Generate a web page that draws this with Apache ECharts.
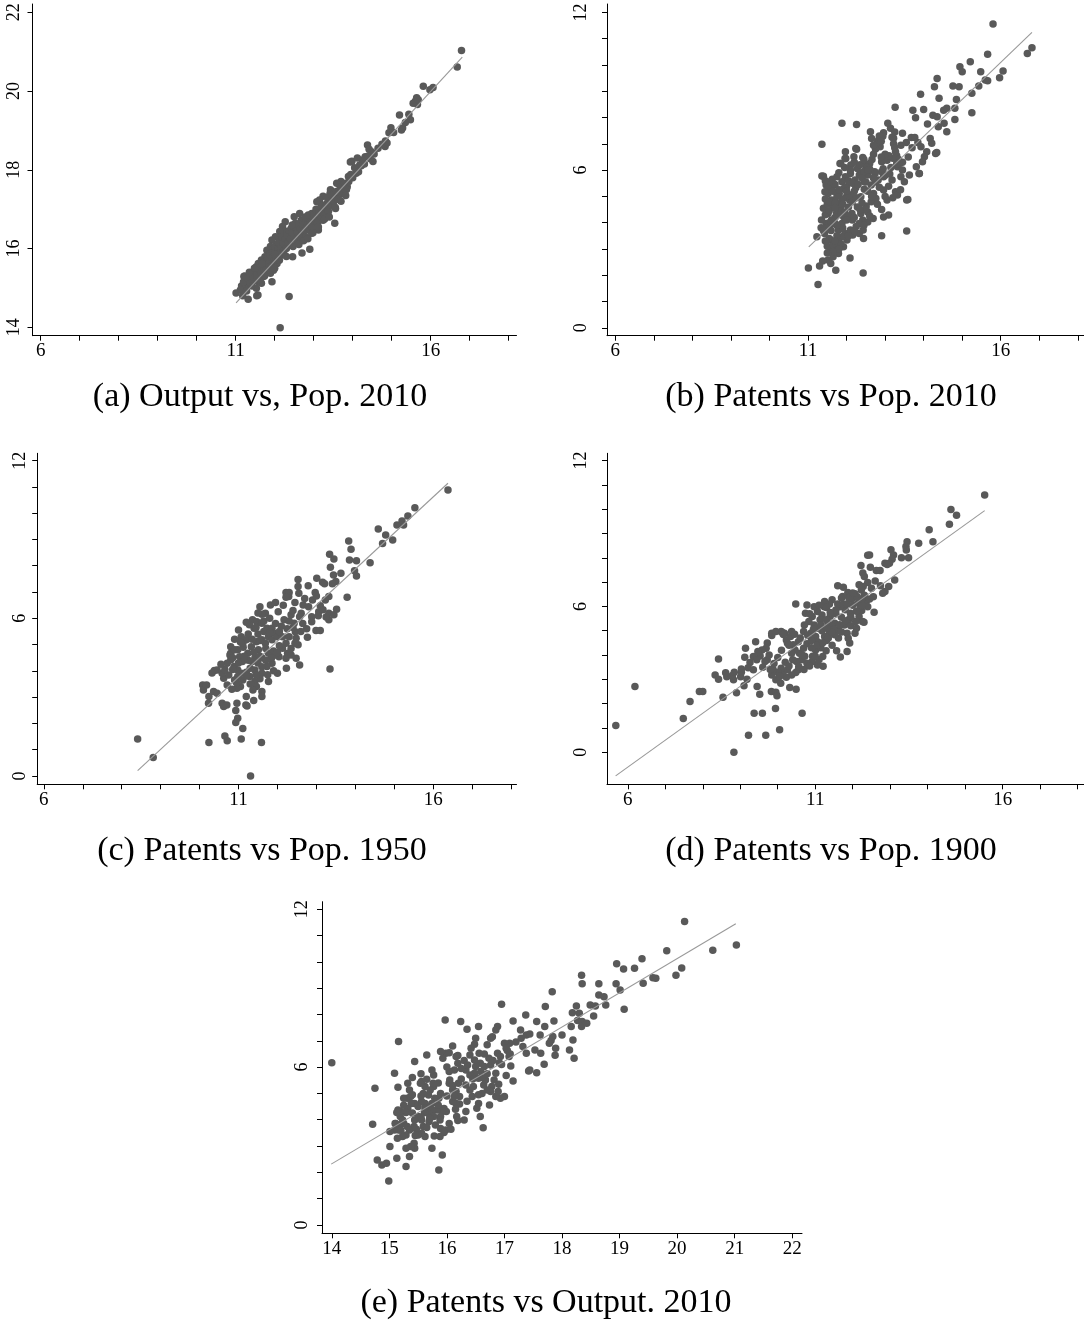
<!DOCTYPE html>
<html><head><meta charset="utf-8">
<script src="https://cdn.jsdelivr.net/npm/echarts@6/dist/echarts.min.js"></script>
<style>html,body{margin:0;padding:0;background:#fff}#chart{width:1084px;height:1321px}</style>
</head><body><div id="chart"></div>
<script>
// ---------- data ----------
const outputVsPop2010 = [[16.79,21.03],[16.68,20.61],[15.81,20.12],[15.98,20.03],[16.06,20.09],[15.64,19.83],[15.61,19.75],[15.66,19.66],[15.55,19.69],[15.68,19.78],[15.20,19.39],[15.44,19.41],[15.48,19.27],[15.25,19.01],[15.28,19.06],[14.98,19.07],[14.93,18.94],[14.84,18.73],[14.83,18.59],[14.88,18.68],[14.38,18.63],[14.48,18.46],[14.42,18.52],[14.32,18.33],[14.25,18.25],[14.52,18.21],[14.45,18.28],[13.98,18.22],[13.94,18.20],[14.18,18.12],[14.12,18.30],[14.09,17.91],[13.89,17.83],[13.95,17.88],[13.70,17.70],[13.59,17.66],[13.86,17.57],[13.79,17.42],[13.65,17.36],[13.72,17.50],[13.43,17.49],[13.42,17.40],[13.50,17.30],[13.24,17.33],[13.15,17.23],[13.08,17.19],[13.19,17.06],[13.34,17.15],[13.43,17.25],[13.56,17.02],[13.54,16.64],[13.36,16.85],[13.24,16.72],[13.30,16.95],[13.08,16.81],[12.95,16.89],[12.90,16.72],[13.03,16.56],[13.12,16.47],[12.95,16.39],[12.81,16.47],[12.77,16.64],[12.68,16.72],[12.64,16.89],[12.50,16.81],[12.53,16.64],[12.55,16.47],[12.42,16.51],[12.33,16.39],[12.37,16.26],[12.27,16.68],[12.20,16.56],[12.25,16.45],[12.13,16.43],[12.02,16.30],[12.15,16.22],[12.06,16.09],[11.93,16.22],[11.89,16.05],[11.80,15.96],[11.85,15.85],[12.02,15.92],[12.20,15.96],[12.28,16.05],[12.40,16.10],[12.46,15.79],[12.70,15.89],[12.90,15.98],[11.75,15.79],[11.66,15.71],[11.80,15.62],[11.93,15.67],[12.06,15.62],[12.10,15.75],[11.58,15.62],[11.53,15.54],[11.62,15.45],[11.75,15.41],[11.89,15.37],[11.97,15.45],[11.93,15.16],[11.45,15.37],[11.47,15.24],[11.36,15.33],[11.41,15.16],[11.58,15.16],[11.71,15.29],[11.32,15.20],[11.27,15.07],[11.23,15.30],[11.53,14.99],[11.66,15.12],[11.57,14.82],[11.32,14.71],[11.24,14.99],[11.01,14.87],[12.37,14.78],[12.14,13.99],[11.54,14.80],[11.21,15.29],
[11.15,15.05],[11.20,15.15],[11.30,15.25],[11.38,15.12],[11.44,15.28],[11.50,15.40],[11.55,15.30],[11.60,15.50],[11.65,15.38],[11.70,15.55],[11.72,15.65],[11.78,15.50],[11.82,15.75],[11.84,15.60],[11.88,15.85],[11.90,15.55],[11.95,15.90],[11.98,15.78],[12.00,16.05],[12.04,15.70],[12.08,16.00],[12.10,16.15],[12.12,15.88],[12.16,16.05],[12.18,16.30],[12.22,16.12],[12.24,15.95],[12.28,16.25],[12.30,16.00],[12.32,16.35],[12.35,16.15],[12.38,16.45],[12.40,16.25],[12.44,16.40],[12.47,16.05],[12.50,16.30],[12.52,16.55],[12.56,16.20],[12.58,16.40],[12.60,16.62],[12.63,16.30],[12.66,16.50],[12.70,16.35],[12.72,16.60],[12.75,16.45],[12.78,16.80],[12.80,16.30],[12.84,16.60],[12.86,16.85],[12.88,16.50],[12.92,16.65],[12.96,16.55],[13.00,16.85],[13.02,16.70],[13.06,17.00],[13.10,16.65],[13.14,16.90],[13.18,16.80],[13.22,17.10],[13.26,16.90],[13.30,17.05],[13.35,17.30],[13.38,16.95],[13.45,17.10],[13.48,17.35],[13.52,17.20],[13.58,17.45],[13.62,17.25],[13.68,17.55],[13.75,17.40],[13.80,17.65],[13.84,17.50],[13.90,17.70],[14.00,17.80],[14.05,18.05],[14.15,17.95],[14.22,18.10],[14.30,18.15],[14.40,18.35],[14.55,18.40],[14.65,18.55],[14.75,18.65],[15.05,18.95],[15.35,19.20],[11.12,14.95],[11.18,14.80],[11.28,14.92],[11.35,15.40],[11.42,15.05],[11.48,15.50],[11.62,15.20],[11.68,15.62],[11.74,15.30],[11.86,15.45],[12.00,15.50],[12.00,15.85],[12.12,15.70],[12.20,15.85],[12.30,15.80],[12.45,16.60],[12.62,16.10],[12.74,16.20],[12.85,16.25],[12.98,16.40],[13.12,16.55],[13.28,16.75],[13.40,16.80],[13.55,17.05],[13.70,17.20],[13.82,17.35]];

const patentsVsPop2010 = [[15.80,11.56],[16.81,10.66],[16.69,10.44],[15.66,10.41],[15.21,10.12],[14.94,9.93],[15.00,9.74],[15.48,9.74],[16.06,9.77],[15.97,9.51],[15.66,9.40],[15.60,9.43],[15.43,9.20],[15.25,8.92],[15.25,8.18],[14.35,9.49],[14.28,9.17],[14.76,9.20],[14.92,9.17],[14.85,8.69],[14.40,8.73],[13.92,8.89],[14.60,8.35],[14.81,8.35],[14.52,8.28],[14.81,7.93],[14.24,8.09],[14.35,8.03],[14.00,8.31],[13.72,8.28],[13.79,7.99],[13.26,8.39],[14.10,7.75],[14.38,7.65],[14.53,7.78],[14.60,7.46],[13.07,7.78],[13.14,7.59],[12.96,7.42],[12.94,7.29],[13.45,7.40],[13.68,7.24],[13.77,7.24],[14.17,7.20],[14.21,7.02],[13.93,6.89],[14.08,6.70],[14.02,6.51],[13.97,6.32],[14.31,6.63],[12.62,7.46],[12.26,7.74],[11.88,7.78],[11.36,6.98],[12.83,7.14],[13.22,7.21],[12.87,6.89],[12.26,6.79],[11.98,6.44],[11.85,6.25],[12.19,6.51],[12.42,6.48],[12.49,6.19],[12.59,6.06],[12.73,5.94],[12.91,6.32],[13.05,6.38],[13.27,6.70],[13.41,6.95],[13.32,6.13],[13.45,6.00],[13.41,5.75],[13.50,5.56],[13.63,5.81],[13.81,6.13],[13.88,5.87],[13.18,5.62],[13.09,5.39],[12.96,5.24],[13.27,5.18],[13.32,5.05],[13.05,4.86],[13.59,4.88],[13.09,4.29],[12.96,4.22],[12.91,4.50],[12.76,4.92],[12.64,4.80],[12.51,4.63],[12.55,4.41],[12.70,5.11],[12.64,5.43],[12.46,5.56],[12.33,5.81],[12.28,6.06],[12.10,5.87],[11.97,5.75],[11.88,5.56],[11.93,5.30],[11.81,5.11],[12.08,4.86],[12.20,4.92],[12.28,4.60],[12.37,4.35],[12.42,4.10],[12.33,3.97],[12.55,4.03],[12.69,4.16],[12.33,3.59],[12.44,3.40],[12.16,3.53],[12.10,3.72],[11.96,3.59],[12.01,3.34],[11.88,3.46],[11.79,3.72],[11.70,3.97],[11.61,4.10],[11.74,4.35],[11.65,4.60],[11.61,4.86],[11.79,4.73],[11.52,4.35],[11.47,3.97],[11.34,3.81],[11.23,3.46],[11.43,3.59],[11.59,3.34],[11.79,3.27],[11.70,3.08],[11.59,2.98],[11.79,2.83],[11.65,2.70],[11.52,2.58],[11.92,3.08],[12.09,2.66],[11.59,2.45],[11.38,2.54],[11.30,2.35],[11.01,2.28],[11.72,2.19],[12.43,2.09],[11.26,1.65],[12.91,3.50],[13.56,3.68],[11.36,5.78],[11.47,5.43],[11.61,5.24],[11.52,5.11],[11.63,5.65],[11.97,6.70],[12.24,6.82],[12.91,5.94],[12.96,5.75],[12.82,5.62],[12.55,5.81],[12.46,5.27],[12.37,4.99],[12.24,5.33],[12.14,4.35],[11.93,4.22],[11.88,3.97],[11.96,6.44],[11.83,6.25],[12.11,6.19],[11.40,5.77],[11.53,5.37],[11.44,5.18],[12.00,5.37],[12.22,5.62],[12.39,5.87],[12.61,6.00],[12.74,5.87],[13.56,4.86],[12.43,3.72],[14.34,6.67],[13.89,5.87],
[12.85,7.30],[12.80,7.05],[12.75,6.80],[12.70,6.60],[12.66,6.40],[12.60,6.25],[12.52,6.10],[12.45,5.95],[12.40,5.70],[13.18,7.25],[13.22,7.00],[13.25,6.85],[13.30,6.55],[13.35,6.40],[13.38,6.25],[13.20,6.45],[13.10,6.55],[13.00,6.60],[12.95,6.05],[13.12,5.85],[12.20,5.20],[12.10,5.05],[12.00,5.00],[11.90,4.90],[11.75,5.00],[11.85,4.55],[11.95,4.40],[12.05,4.25],[12.15,4.10],[12.25,3.85],[11.70,4.20],[11.55,4.00],[11.60,3.70],[11.75,3.50],[11.85,3.20],[11.50,3.10],[11.65,3.15],[11.80,3.00],[11.45,4.30],[11.40,4.55],[11.50,4.70],[11.70,5.45],[11.80,5.90],[12.20,6.30],[12.35,6.20],[12.45,6.40],[12.05,5.60],[12.15,5.50],[12.55,5.20],[12.65,5.00],[12.80,4.70],[12.85,5.35],[12.75,5.55],[13.00,5.00],[13.20,4.95],[13.40,5.25],[13.45,6.30],[13.60,6.50],[13.70,6.85],[13.55,7.05],[13.85,7.05],
[11.45,4.90],[11.55,4.80],[11.70,4.75],[11.90,4.70],[12.05,4.60],[12.15,4.80],[12.25,4.95],[12.40,4.75],[12.50,4.50],[12.60,4.25],[12.45,3.90],[12.20,3.70],[12.05,3.50],[11.90,3.80],[11.75,3.90],[11.60,3.95],[11.50,3.80],[11.40,3.70],[11.35,4.10],[11.55,4.45],[11.70,4.55],[11.85,4.30],[12.00,4.10],[12.20,4.20],[12.35,4.50],[11.65,5.20],[11.80,5.25],[12.00,5.20],[12.30,5.45],[12.50,5.55],[12.70,5.70],[12.55,6.00],[12.10,6.00],[11.95,6.10],[11.75,5.75],[11.55,5.55],[11.45,5.60],[13.00,5.80],[13.15,6.10],[12.90,6.50],[12.70,6.95],[12.65,7.20],[12.90,7.10],[13.25,7.45],[13.30,6.25],[11.55,3.40],[11.70,3.30],[11.65,2.90],[11.50,2.85],[11.45,3.30]];

const patentsVsPop1950 = [[16.38,10.88],[15.53,10.21],[15.35,9.89],[15.20,9.70],[15.24,9.55],[15.07,9.55],[14.59,9.40],[14.78,9.17],[14.70,8.85],[14.96,8.98],[13.83,8.94],[13.89,8.63],[13.85,8.22],[14.03,8.19],[14.38,8.11],[13.98,7.81],[14.03,7.61],[13.34,8.44],[13.45,8.26],[13.36,7.94],[13.63,7.71],[13.44,7.65],[13.50,7.40],[13.41,7.31],[13.79,6.80],[13.01,7.52],[13.16,7.37],[13.21,7.31],[12.53,7.48],[12.79,7.24],[12.53,7.21],[12.22,6.98],[12.30,6.98],[12.55,6.95],[12.97,6.98],[12.29,6.83],[12.22,6.80],[13.32,6.83],[12.66,6.51],[12.80,6.44],[13.10,6.48],[13.23,6.70],[13.17,6.32],[13.32,6.19],[13.52,6.34],[13.45,6.13],[13.32,5.94],[13.06,6.25],[12.88,6.06],[12.88,5.87],[12.99,5.53],[13.10,5.53],[12.77,5.28],[12.53,4.99],[12.48,5.24],[12.46,5.49],[12.43,5.81],[12.61,6.19],[12.57,6.06],[12.35,6.13],[12.17,5.94],[12.30,5.90],[12.02,6.25],[11.82,6.51],[11.69,6.19],[11.55,6.44],[11.60,6.15],[11.36,5.94],[11.47,5.87],[11.60,5.81],[11.73,5.62],[11.86,5.62],[11.91,5.43],[11.77,5.30],[11.60,5.18],[11.46,5.11],[11.69,5.05],[11.86,5.18],[12.00,5.30],[12.22,5.05],[12.13,4.86],[12.26,4.67],[12.22,4.48],[12.04,4.54],[12.35,4.60],[12.48,4.48],[12.57,4.22],[12.23,4.10],[11.86,4.29],[11.73,4.16],[12.00,3.91],[11.77,3.59],[11.60,3.91],[11.42,4.03],[11.50,4.30],[11.42,4.48],[11.24,4.67],[11.33,4.92],[11.12,4.90],[11.20,5.18],[11.07,5.30],[11.11,5.05],[10.98,4.80],[11.03,4.54],[10.80,4.92],[10.80,4.67],[10.80,4.41],[10.89,4.16],[11.10,4.35],[10.98,4.03],[11.07,3.91],[11.20,3.95],[11.11,3.65],[11.29,3.78],[11.42,3.59],[11.46,3.40],[11.37,3.27],[11.60,3.21],[11.60,3.02],[11.39,2.87],[11.20,3.02],[11.05,3.40],[10.96,3.34],[10.83,3.30],[10.71,3.46],[10.62,3.72],[10.75,3.84],[10.58,3.91],[10.45,4.03],[10.38,4.01],[10.32,3.92],[10.85,4.05],[10.71,4.29],[10.78,4.60],[10.85,4.50],[10.98,3.78],[10.90,3.65],[10.08,3.46],[10.10,3.27],[10.18,3.46],[10.36,3.21],[10.45,3.15],[10.24,3.02],[10.23,2.77],[10.58,2.77],[10.62,2.64],[10.70,2.70],[10.96,2.77],[11.19,2.70],[11.22,2.66],[10.93,2.49],[10.98,2.19],[10.93,2.03],[11.11,1.80],[10.65,1.52],[10.71,1.34],[11.07,1.40],[10.24,1.27],[11.59,1.27],[11.31,0.00],[8.41,1.40],[8.81,0.70],[13.35,4.07],[11.40,5.62],[11.28,5.75],[11.51,4.80],[11.77,4.67],[11.90,4.75],[11.70,4.85],[12.05,4.95],[12.13,5.30],[12.05,5.50],[11.95,4.60],[11.60,4.50],[11.40,4.70],[11.25,4.40],[11.55,3.70],[11.30,3.50],
[11.50,5.40],[11.65,5.50],[11.80,5.45],[11.95,5.80],[12.10,5.70],[12.25,5.60],[12.40,5.65],[12.00,4.70],[11.85,4.50],[11.70,4.40],[11.55,4.55],[11.35,4.35],[11.15,4.55],[11.00,4.30],[10.90,4.80],[11.05,5.10],[11.25,5.40],[11.45,5.65],[11.65,5.90],[11.80,6.00],[12.15,6.50],[12.40,6.30],[12.65,5.80],[12.75,5.60],[12.60,5.50],[12.30,5.30],[12.45,5.05],[12.35,4.85],[11.90,4.00],[11.60,4.15],[11.30,4.10],[11.20,3.80],[11.45,3.85],[11.75,3.85],[10.95,3.55],[10.65,4.05],[10.55,4.25],[12.70,6.75],[12.90,6.70],[13.05,6.10],[13.25,6.05],[13.00,6.85],[12.45,6.60],[11.95,6.60],[11.50,6.20],[11.20,5.85],[11.00,5.55],[10.90,5.20],[11.35,5.20],[11.55,5.15]];

const patentsVsPop1900 = [[15.52,10.58],[14.62,9.99],[14.77,9.75],[14.58,9.38],[14.04,9.15],[14.14,8.66],[13.76,8.60],[13.45,8.66],[13.42,8.46],[13.43,8.32],[13.49,8.00],[13.30,8.00],[13.02,8.33],[13.09,8.12],[13.05,7.94],[12.98,7.78],[12.86,7.78],[12.92,7.72],[13.12,7.09],[12.96,6.82],[12.86,6.61],[12.80,6.54],[12.45,8.12],[12.40,8.10],[12.22,7.68],[12.47,7.61],[12.63,7.48],[12.73,7.48],[12.27,7.37],[12.31,7.23],[12.40,6.98],[12.28,6.82],[12.17,6.89],[12.23,6.68],[12.31,6.46],[12.74,6.85],[11.60,6.85],[11.75,6.79],[11.87,6.57],[11.73,6.41],[11.90,6.35],[11.98,6.30],[12.06,6.52],[12.12,6.40],[12.36,6.20],[12.40,5.99],[12.57,5.76],[12.24,5.83],[12.17,5.58],[12.26,5.38],[12.30,5.35],[12.08,5.38],[12.06,4.90],[11.85,4.90],[11.88,4.69],[11.92,4.49],[11.85,4.14],[11.62,4.70],[11.57,4.18],[11.67,3.92],[11.78,5.24],[11.89,5.45],[11.94,5.72],[11.80,5.86],[11.66,5.99],[11.60,6.10],[11.45,6.27],[11.38,6.10],[11.25,6.20],[11.24,5.99],[11.18,5.65],[11.06,5.79],[10.97,5.99],[10.78,6.06],[10.48,6.10],[10.74,5.72],[10.92,5.58],[11.13,5.45],[11.34,5.31],[11.52,5.31],[11.43,5.17],[11.62,5.03],[11.52,4.83],[11.38,4.90],[11.25,4.76],[11.18,5.00],[11.06,5.10],[10.97,5.24],[10.83,5.38],[10.71,5.24],[10.69,4.97],[10.88,4.90],[11.01,4.76],[11.06,4.55],[11.01,4.21],[11.29,4.18],[11.20,3.94],[11.21,3.54],[11.06,3.59],[10.92,3.73],[10.78,3.66],[10.64,3.80],[10.58,4.07],[10.69,4.28],[10.78,4.46],[10.55,4.55],[10.41,4.42],[10.46,4.21],[10.37,4.07],[10.50,3.73],[10.55,3.39],[10.48,3.28],[10.37,3.18],[10.23,3.09],[10.14,3.28],[10.26,3.39],[10.09,3.46],[10.00,3.28],[9.88,3.39],[9.84,3.18],[9.95,2.98],[10.08,2.84],[10.32,2.66],[10.49,2.59],[10.05,3.12],[10.23,4.62],[10.18,4.90],[10.37,4.97],[10.34,4.76],[10.09,4.97],[9.84,4.80],[9.72,4.49],[9.69,4.28],[9.58,4.21],[9.53,3.96],[9.47,4.14],[9.41,4.55],[9.35,3.94],[9.44,3.80],[9.26,3.69],[9.21,3.48],[9.35,3.39],[9.14,4.28],[9.12,3.91],[9.01,3.11],[9.03,3.29],[9.18,3.00],[9.10,2.73],[9.45,2.70],[9.52,2.39],[9.83,2.50],[9.95,2.47],[9.98,2.32],[9.84,4.90],[9.95,4.97],[10.11,4.94],[9.72,3.80],[9.66,3.73],[9.77,4.00],[8.90,2.45],[8.82,2.98],[8.79,3.16],[8.84,3.29],[8.64,3.11],[8.61,3.27],[8.33,3.18],[8.42,3.00],[9.03,3.42],[8.54,2.26],[7.91,2.50],[8.00,2.50],[7.66,2.09],[7.48,1.39],[8.42,3.84],[6.19,2.70],[5.68,1.10],[9.37,1.60],[9.59,1.60],[9.94,1.80],[10.65,1.60],[9.22,0.70],[9.68,0.70],[10.05,0.92],[8.83,0.00],[10.15,4.84],[10.26,4.48],[10.40,3.80],[10.56,3.53],[10.70,3.40],[10.72,3.95],[10.90,4.30],[10.93,3.95],[11.10,3.80],[11.15,4.30],[11.30,4.60],[11.45,4.40],[11.40,5.60],[11.55,5.70],[11.70,5.55],[12.00,6.05],[12.15,6.15],[11.30,5.95],[11.10,6.05],[10.85,5.70],[12.50,6.75],[12.60,7.05],[12.55,6.40],[12.20,6.00],
[10.90,4.60],[11.05,4.40],[11.20,4.50],[11.35,4.70],[11.50,5.05],[11.65,5.25],[11.80,5.40],[11.95,5.55],[12.10,5.80],[12.25,6.05],[11.75,6.10],[11.55,5.85],[11.40,5.75],[11.30,5.45],[11.15,5.25],[10.95,5.05],[10.80,4.80],[10.60,4.70],[10.45,4.85],[10.30,4.40],[10.10,4.20],[10.00,3.90],[9.90,3.65],[10.20,3.70],[10.65,4.00],[10.85,3.55],[11.00,3.95],[10.30,3.55],[9.80,3.40],[9.60,3.50],[11.70,6.35],[11.85,6.10],[12.00,6.55],[12.25,6.30],[12.45,6.30],[11.95,5.20],[12.10,5.10],[11.70,4.95],[11.45,4.95],[11.30,5.10]];

const patentsVsOutput2010 = [[20.13,11.54],[21.03,10.64],[20.62,10.44],[19.82,10.42],[19.39,10.12],[18.95,9.93],[19.26,9.76],[19.07,9.73],[20.08,9.77],[19.98,9.49],[19.58,9.40],[19.63,9.38],[19.41,9.19],[18.94,9.17],[19.01,8.93],[18.34,9.49],[18.35,9.17],[18.64,9.17],[17.83,8.87],[18.64,8.74],[18.73,8.68],[18.76,8.36],[19.08,8.20],[18.58,8.32],[18.49,8.36],[18.25,8.32],[18.18,8.07],[18.30,8.05],[18.55,7.94],[18.27,7.77],[18.16,7.54],[18.19,7.03],[18.35,7.73],[18.34,7.54],[18.43,7.67],[18.21,6.34],[18.13,6.65],[18.00,7.22],[17.84,7.16],[17.81,7.01],[17.78,6.91],[17.89,6.72],[17.88,6.45],[17.86,7.75],[17.71,8.30],[17.70,7.54],[17.56,7.73],[17.62,7.22],[17.63,6.53],[17.69,6.11],[17.53,6.65],[17.56,5.79],[17.44,5.89],[17.42,5.85],[17.38,7.22],[17.44,7.26],[17.37,7.98],[17.28,7.41],[17.29,7.10],[17.32,6.78],[17.38,6.53],[17.15,7.75],[17.09,6.91],[17.05,6.63],[17.11,6.04],[17.15,5.47],[16.95,8.39],[17.00,6.91],[17.03,6.72],[17.08,6.40],[17.03,5.68],[17.00,4.88],[16.93,4.82],[16.85,4.88],[16.89,5.07],[16.88,7.54],[16.85,7.41],[16.76,7.10],[16.79,7.15],[16.88,6.53],[16.93,6.40],[16.91,6.17],[16.85,5.77],[16.82,5.51],[16.76,6.08],[16.73,6.34],[16.78,5.26],[16.76,5.07],[16.70,5.13],[16.64,5.32],[16.67,5.51],[16.59,5.83],[16.55,7.54],[16.56,6.53],[16.58,6.15],[16.65,6.02],[16.50,6.02],[16.48,5.77],[16.55,5.58],[16.61,5.00],[16.74,4.56],[16.55,4.62],[16.58,4.12],[16.63,3.69],[16.52,4.44],[16.44,4.88],[16.40,5.13],[16.33,5.32],[16.46,5.26],[16.40,5.70],[16.33,5.89],[16.36,6.08],[16.48,6.27],[16.40,6.46],[16.48,6.87],[16.42,6.72],[16.35,7.44],[16.24,7.73],[16.19,6.44],[16.16,6.40],[16.13,5.89],[16.19,6.15],[16.20,5.39],[16.10,5.13],[16.16,5.07],[16.22,4.88],[16.22,4.60],[16.16,4.62],[16.10,4.69],[16.13,4.88],[16.33,4.31],[16.30,3.99],[16.17,4.12],[16.19,3.97],[16.04,5.39],[16.05,5.51],[16.04,5.83],[15.98,6.53],[16.04,6.55],[15.97,7.79],[15.93,6.34],[15.89,6.59],[15.89,5.00],[15.86,4.82],[15.95,4.43],[15.99,4.31],[15.92,4.31],[15.89,4.12],[15.83,4.37],[15.88,3.99],[16.04,3.86],[16.07,3.64],[15.98,3.61],[15.89,3.67],[15.95,3.51],[15.88,3.36],[15.77,5.70],[15.74,5.89],[15.77,5.26],[15.76,5.39],[15.71,5.13],[15.68,4.94],[15.79,4.82],[15.74,4.62],[15.68,4.50],[15.75,4.37],[15.68,4.24],[15.77,4.12],[15.69,3.93],[15.78,3.38],[15.74,2.91],[15.92,2.66],[15.86,2.09],[15.65,6.46],[15.65,5.54],[15.62,5.26],[15.59,5.00],[15.62,4.62],[15.56,4.69],[15.62,4.43],[15.61,4.27],[15.50,4.50],[15.44,4.62],[15.50,4.12],[15.56,3.99],[15.59,3.74],[15.62,3.36],[15.56,3.48],[15.47,3.64],[15.43,3.74],[15.50,3.42],[15.44,3.99],[15.43,3.10],[15.44,2.91],[15.37,2.98],[15.35,2.60],[15.29,2.91],[15.29,2.22],[15.13,2.53],[14.99,1.67],[15.44,6.21],[15.56,5.45],[15.54,5.39],[15.35,5.13],[15.32,5.39],[15.31,4.82],[15.25,4.82],[15.37,4.88],[15.38,4.62],[15.32,4.43],[15.29,4.27],[15.20,4.31],[15.19,4.12],[15.17,4.31],[15.25,3.86],[15.23,3.99],[15.31,3.74],[15.35,3.61],[15.29,3.42],[15.23,3.36],[15.17,3.80],[15.11,3.86],[15.16,3.61],[15.14,3.29],[15.09,3.61],[15.01,3.55],[15.10,3.86],[15.01,2.98],[15.15,5.23],[15.16,6.97],[15.09,5.77],[15.15,4.37],[15.13,4.27],[14.75,5.20],[14.71,3.83],[14.79,2.47],[14.87,2.28],[14.95,2.34],[14.00,6.17],
[15.40,4.25],[15.55,4.10],[15.70,4.05],[15.85,4.55],[16.00,4.90],[16.10,5.30],[16.25,5.55],[16.45,5.55],[16.60,5.60],[16.70,5.75],[16.80,6.25],[16.95,6.10],[16.65,6.50],[16.30,6.25],[16.25,5.95],[16.00,6.00],[15.85,5.40],[15.55,4.90],[15.40,4.95],[15.25,4.55],[15.20,3.60],[15.45,3.40],[15.65,3.70],[15.80,3.80],[16.15,4.40],[16.35,4.70],[16.55,4.95],[16.90,5.35],[17.10,6.50],[17.20,6.95],[16.70,6.85],[16.50,7.10],[16.10,6.80],[15.55,5.75],[15.40,5.60]];

// fitted lines (end points)
const fitA = [[11.01,14.62],[16.81,20.86]];
const fitB = [[11.02,3.08],[16.81,11.24]];
const fitC = [[8.41,0.20],[16.38,11.14]];
const fitD = [[5.675,-0.975],[15.52,9.94]];
const fitE = [[13.99,2.31],[21.02,11.45]];

// tick / label values
const popTicks = [6,7,8,9,10,11,12,13,14,15,16,17,18];
const popLabels = [6,11,16];
const outputTicksA = [14,16,18,20,22];
const patentTicks = [0,1,2,3,4,5,6,7,8,9,10,11,12];
const patentLabels = [0,6,12];
const outputTicksE = [14,15,16,17,18,19,20,21,22];

const captions = ['(a) Output vs, Pop. 2010','(b) Patents vs Pop. 2010','(c) Patents vs Pop. 1950','(d) Patents vs Pop. 1900','(e) Patents vs Output. 2010'];

// ---------- layout ----------
const FONT = "'Liberation Serif', 'Times New Roman', serif";
const panels = [
  {data: outputVsPop2010, fit: fitA, grid:{left:32.5, top:4, width:484, height:331.7}, x:[5.79,18.2], y:[13.787,22.21], xt:popTicks, xl:popLabels, yt:outputTicksA, yl:outputTicksA, ym:9, cap:[260,397]},
  {data: patentsVsPop2010, fit: fitB, grid:{left:607, top:4, width:477, height:331.7}, x:[5.785,18.16], y:[-0.30,12.32], xt:popTicks, xl:popLabels, yt:patentTicks, yl:patentLabels, ym:17, cap:[831,397]},
  {data: patentsVsPop1950, fit: fitC, grid:{left:37.2, top:453.3, width:479.3, height:331}, x:[5.83,18.14], y:[-0.32,12.28], xt:popTicks, xl:popLabels, yt:patentTicks, yl:patentLabels, ym:8, cap:[262,851]},
  {data: patentsVsPop1900, fit: fitD, grid:{left:607, top:453.3, width:477, height:331}, x:[5.445,18.17], y:[-1.32,12.3], xt:popTicks, xl:popLabels, yt:patentTicks, yl:patentLabels, ym:17, cap:[831,851]},
  {data: patentsVsOutput2010, fit: fitE, grid:{left:322, top:901.7, width:480, height:331.6}, x:[13.83,22.17], y:[-0.32,12.29], xt:outputTicksE, xl:outputTicksE, yt:patentTicks, yl:patentLabels, ym:11, cap:[546,1303]}
];

const axisCommon = {
  axisLine:{show:true, onZero:false, lineStyle:{color:'#000', width:1}},
  axisTick:{show:true, inside:false, length:5, lineStyle:{color:'#000', width:1}},
  splitLine:{show:false}
};

const option = {
  animation:false,
  backgroundColor:'#fff',
  grid: panels.map(p => Object.assign({containLabel:false, outerBoundsMode:'none'}, p.grid)),
  xAxis: panels.map((p,i) => Object.assign({}, axisCommon, {
    type:'value', gridIndex:i, min:p.x[0], max:p.x[1],
    axisTick:Object.assign({}, axisCommon.axisTick, {customValues:p.xt}),
    axisLabel:{customValues:p.xl, color:'#000', fontFamily:FONT, fontSize:19, margin:6}
  })),
  yAxis: panels.map((p,i) => Object.assign({}, axisCommon, {
    type:'value', gridIndex:i, min:p.y[0], max:p.y[1],
    axisTick:Object.assign({}, axisCommon.axisTick, {customValues:p.yt}),
    axisLabel:{customValues:p.yl, color:'#000', fontFamily:FONT, fontSize:18, rotate:90, margin:p.ym}
  })),
  series: [].concat(...panels.map((p,i) => [
    {type:'scatter', xAxisIndex:i, yAxisIndex:i, data:p.data, symbol:'circle', symbolSize:7.5,
     itemStyle:{color:'#595959', opacity:1}, silent:true, z:2},
    {type:'line', xAxisIndex:i, yAxisIndex:i, data:p.fit, showSymbol:false, symbol:'none',
     lineStyle:{color:'#999999', width:1.1}, silent:true, z:3}
  ])),
  graphic: panels.map((p,i) => ({
    type:'text', x:p.cap[0], y:p.cap[1], silent:true,
    style:{text:captions[i], fill:'#000', font:"34px 'Liberation Serif', serif",
           align:'center', verticalAlign:'middle', textAlign:'center', textVerticalAlign:'middle'}
  }))
};

const chart = echarts.init(document.getElementById('chart'), null, {renderer:'canvas'});
chart.setOption(option);
</script>
</body></html>
